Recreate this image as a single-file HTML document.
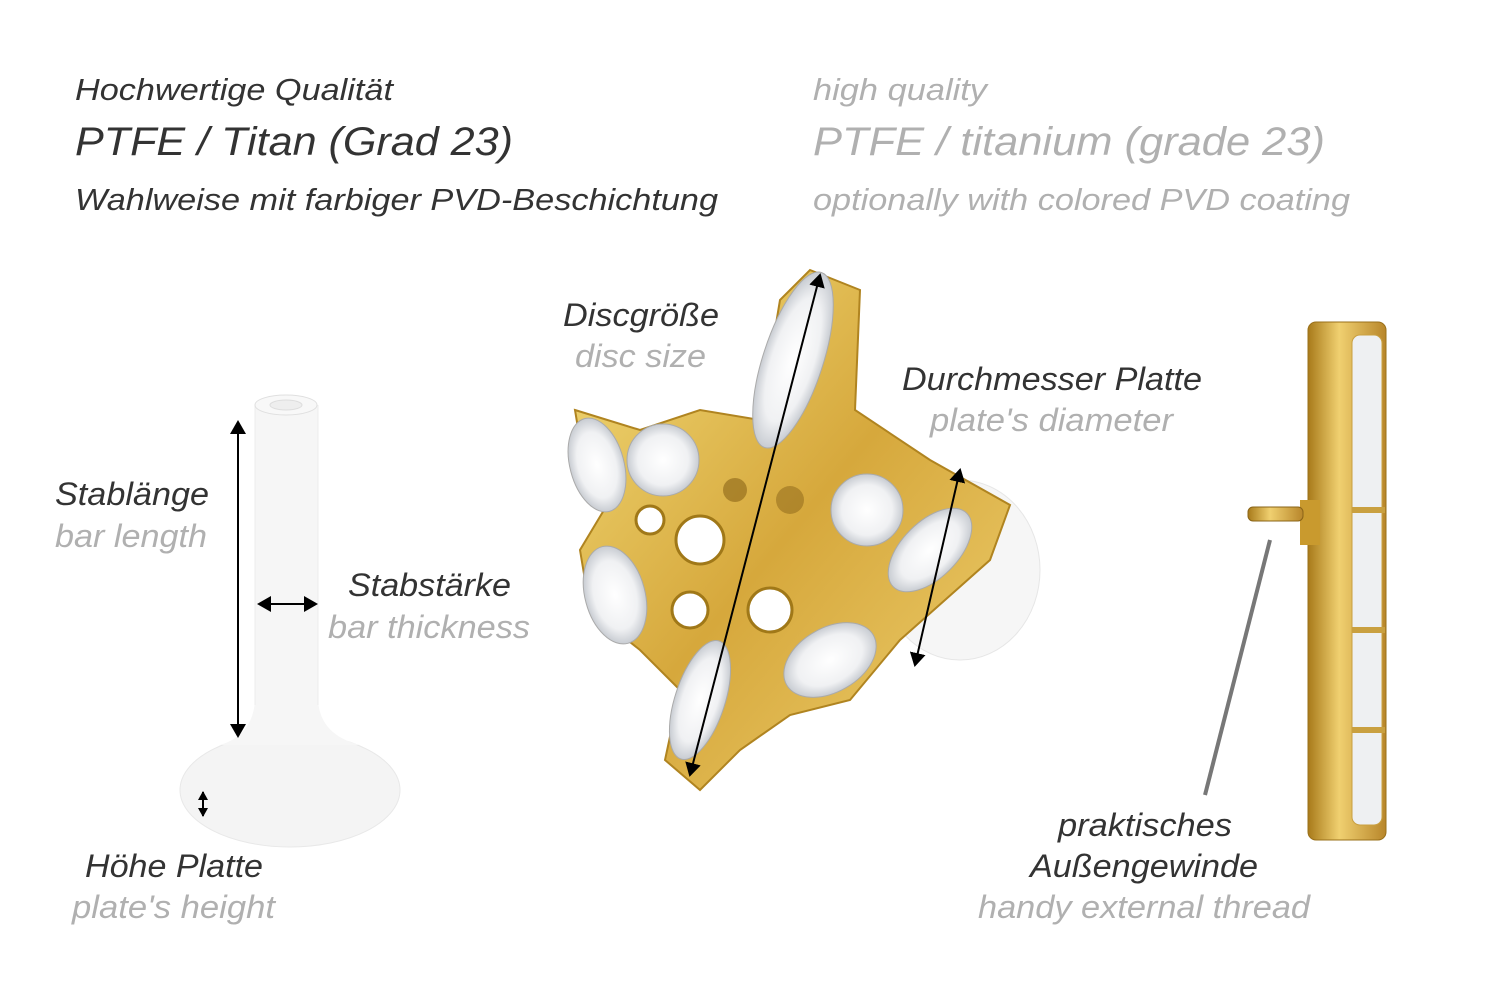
<!DOCTYPE html>
<html><head><meta charset="utf-8">
<style>
html,body{margin:0;padding:0;background:#fff;}
svg{display:block;}
text{font-family:"Liberation Sans",sans-serif;font-style:italic;}
.d{fill:#333;}
.l{fill:#b0b0b0;}
</style></head><body>
<svg width="1500" height="1001" viewBox="0 0 1500 1001" xmlns="http://www.w3.org/2000/svg">
<defs>
<marker id="a" markerWidth="8" markerHeight="8" refX="6" refY="4" orient="auto-start-reverse"><path d="M0,0 L7,4 L0,8 z" fill="#000"/></marker>
<marker id="s" markerWidth="5" markerHeight="5" refX="4" refY="2.5" orient="auto-start-reverse"><path d="M0,0 L4.5,2.5 L0,5 z" fill="#000"/></marker>
<linearGradient id="g" x1="0" y1="0" x2="1" y2="1"><stop offset="0" stop-color="#f3dc7a"/><stop offset="0.5" stop-color="#d6a83c"/><stop offset="1" stop-color="#efd070"/></linearGradient>
<linearGradient id="gs" x1="0" y1="0" x2="1" y2="0"><stop offset="0" stop-color="#a87a1a"/><stop offset="0.4" stop-color="#f0d070"/><stop offset="1" stop-color="#b8862a"/></linearGradient>
<radialGradient id="st"><stop offset="0" stop-color="#fff"/><stop offset="0.7" stop-color="#f0f1f3"/><stop offset="1" stop-color="#c8ccd2"/></radialGradient>
</defs>

<text x="75" y="100" font-size="31" class="d" textLength="318" lengthAdjust="spacingAndGlyphs">Hochwertige Qualität</text>
<text x="75" y="155" font-size="40" class="d" textLength="438" lengthAdjust="spacingAndGlyphs">PTFE / Titan (Grad 23)</text>
<text x="75" y="210" font-size="31" class="d" textLength="643" lengthAdjust="spacingAndGlyphs">Wahlweise mit farbiger PVD-Beschichtung</text>
<text x="813" y="100" font-size="31" class="l" textLength="174" lengthAdjust="spacingAndGlyphs">high quality</text>
<text x="813" y="155" font-size="40" class="l" textLength="512" lengthAdjust="spacingAndGlyphs">PTFE / titanium (grade 23)</text>
<text x="813" y="210" font-size="31" class="l" textLength="537" lengthAdjust="spacingAndGlyphs">optionally with colored PVD coating</text>

<!-- left pin -->
<ellipse cx="290" cy="790" rx="110" ry="57" fill="#f4f4f4" stroke="#e8e8e8"/>
<path d="M255,405 L318,405 L318,700 Q320,735 360,745 L220,745 Q253,735 255,700z" fill="#f6f6f6"/>
<line x1="255" y1="405" x2="255" y2="705" stroke="#ececec"/>
<line x1="318" y1="405" x2="318" y2="705" stroke="#ececec"/>
<ellipse cx="286" cy="405" rx="31" ry="10" fill="#f8f8f8" stroke="#e0e0e0"/>
<ellipse cx="286" cy="405" rx="16" ry="5" fill="#eee" stroke="#ddd"/>
<line x1="238" y1="422" x2="238" y2="736" stroke="#000" stroke-width="2" marker-start="url(#a)" marker-end="url(#a)"/>
<line x1="259" y1="604" x2="316" y2="604" stroke="#000" stroke-width="2" marker-start="url(#a)" marker-end="url(#a)"/>
<line x1="203" y1="792" x2="203" y2="816" stroke="#000" stroke-width="2" marker-start="url(#s)" marker-end="url(#s)"/>
<text x="55" y="505" font-size="32" class="d" textLength="154" lengthAdjust="spacingAndGlyphs">Stablänge</text>
<text x="55" y="547" font-size="32" class="l" textLength="152" lengthAdjust="spacingAndGlyphs">bar length</text>
<text x="348" y="596" font-size="32" class="d" textLength="163" lengthAdjust="spacingAndGlyphs">Stabstärke</text>
<text x="328" y="638" font-size="32" class="l" textLength="202" lengthAdjust="spacingAndGlyphs">bar thickness</text>
<text x="85" y="877" font-size="32" class="d" textLength="178" lengthAdjust="spacingAndGlyphs">Höhe Platte</text>
<text x="72" y="918" font-size="32" class="l" textLength="203" lengthAdjust="spacingAndGlyphs">plate's height</text>

<!-- center jewelry -->
<ellipse cx="960" cy="570" rx="80" ry="90" fill="#f6f6f6" stroke="#e6e6e6"/>
<path d="M575,410 L640,430 L700,410 L760,420 L780,300 L810,270 L860,290 L855,410 L930,460 L1010,505 L990,560 L900,640 L850,700 L790,715 L740,750 L700,790 L665,760 L680,690 L640,650 L590,610 L580,550 L610,500 L580,440z" fill="url(#g)" stroke="#b08420" stroke-width="2"/>
<circle cx="700" cy="540" r="24" fill="#fff" stroke="#a07818" stroke-width="3"/>
<circle cx="650" cy="520" r="14" fill="#fff" stroke="#a07818" stroke-width="3"/>
<circle cx="770" cy="610" r="22" fill="#fff" stroke="#a07818" stroke-width="3"/>
<circle cx="690" cy="610" r="18" fill="#fff" stroke="#a07818" stroke-width="3"/>
<circle cx="735" cy="490" r="12" fill="#8a6418" opacity="0.6"/>
<circle cx="790" cy="500" r="14" fill="#8a6418" opacity="0.5"/>
<ellipse cx="793" cy="360" rx="30" ry="92" transform="rotate(18 793 360)" fill="url(#st)" stroke="#aaa"/>
<ellipse cx="597" cy="465" rx="27" ry="48" transform="rotate(-15 597 465)" fill="url(#st)" stroke="#aaa"/>
<circle cx="663" cy="460" r="36" fill="url(#st)" stroke="#aaa"/>
<circle cx="867" cy="510" r="36" fill="url(#st)" stroke="#aaa"/>
<ellipse cx="930" cy="550" rx="28" ry="52" transform="rotate(45 930 550)" fill="url(#st)" stroke="#aaa"/>
<ellipse cx="615" cy="595" rx="30" ry="50" transform="rotate(-15 615 595)" fill="url(#st)" stroke="#aaa"/>
<ellipse cx="830" cy="660" rx="32" ry="50" transform="rotate(60 830 660)" fill="url(#st)" stroke="#aaa"/>
<ellipse cx="700" cy="700" rx="25" ry="62" transform="rotate(18 700 700)" fill="url(#st)" stroke="#aaa"/>
<line x1="820" y1="275" x2="690" y2="775" stroke="#000" stroke-width="2" marker-start="url(#a)" marker-end="url(#a)"/>
<line x1="960" y1="470" x2="915" y2="665" stroke="#000" stroke-width="2" marker-start="url(#a)" marker-end="url(#a)"/>
<text x="563" y="326" font-size="32" class="d" textLength="156" lengthAdjust="spacingAndGlyphs">Discgröße</text>
<text x="575" y="367" font-size="32" class="l" textLength="131" lengthAdjust="spacingAndGlyphs">disc size</text>
<text x="902" y="390" font-size="32" class="d" textLength="300" lengthAdjust="spacingAndGlyphs">Durchmesser Platte</text>
<text x="930" y="431" font-size="32" class="l" textLength="243" lengthAdjust="spacingAndGlyphs">plate's diameter</text>

<!-- right side view -->
<rect x="1308" y="322" width="78" height="518" rx="8" fill="url(#gs)" stroke="#9a701a"/>
<rect x="1352" y="335" width="30" height="490" rx="8" fill="#eef0f2" stroke="#c9a040"/>
<line x1="1352" y1="510" x2="1385" y2="510" stroke="#c9a040" stroke-width="6"/>
<line x1="1352" y1="630" x2="1385" y2="630" stroke="#c9a040" stroke-width="6"/>
<line x1="1352" y1="730" x2="1385" y2="730" stroke="#c9a040" stroke-width="6"/>
<rect x="1300" y="500" width="20" height="45" fill="#c99a2e"/>
<rect x="1248" y="507" width="55" height="14" rx="5" fill="url(#gs)" stroke="#8a6418"/>
<line x1="1270" y1="540" x2="1205" y2="795" stroke="#777" stroke-width="4"/>
<text x="1058" y="836" font-size="32" class="d" textLength="174" lengthAdjust="spacingAndGlyphs">praktisches</text>
<text x="1030" y="877" font-size="32" class="d" textLength="228" lengthAdjust="spacingAndGlyphs">Außengewinde</text>
<text x="978" y="918" font-size="32" class="l" textLength="332" lengthAdjust="spacingAndGlyphs">handy external thread</text>
</svg>
</body></html>
